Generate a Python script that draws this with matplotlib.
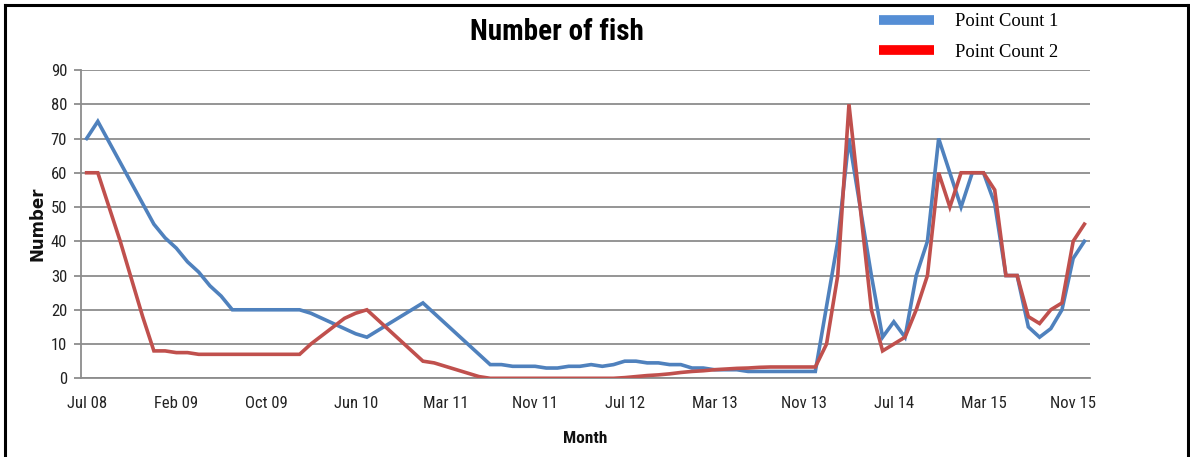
import matplotlib
matplotlib.use("Agg")
import matplotlib.pyplot as plt
from matplotlib.lines import Line2D
from matplotlib import font_manager
import numpy as np

# ---- data ----
tick_labels = ["Jul 08", "Feb 09", "Oct 09", "Jun 10", "Mar 11", "Nov 11",
               "Jul 12", "Mar 13", "Nov 13", "Jul 14", "Mar 15", "Nov 15"]
label_every = 8

point_count_1 = [
    70, 75, 69, 63, 57, 51, 45, 41, 38, 34,
    31, 27, 24, 20, 20, 20, 20, 20, 20, 20,
    19, 17.5, 16, 14.5, 13, 12, 14, 16, 18, 20,
    22, 19, 16, 13, 10, 7, 4, 4, 3.5, 3.5,
    3.5, 3, 3, 3.5, 3.5, 4, 3.5, 4, 5, 5,
    4.5, 4.5, 4, 4, 3, 3, 2.5, 2.5, 2.5, 2,
    2, 2, 2, 2, 2, 2, 21, 40, 70, 50,
    30, 12, 16.5, 12, 30, 40, 70, 60, 50, 60,
    60, 51, 30, 30, 15, 12, 14.5, 20, 35, 40,
]
point_count_2 = [
    60, 60, 50, 40, 29, 18, 8, 8, 7.5, 7.5,
    7, 7, 7, 7, 7, 7, 7, 7, 7, 7,
    10, 12.5, 15, 17.5, 19, 20, 17, 14, 11, 8,
    5, 4.5, 3.5, 2.5, 1.5, 0.5, 0, 0, 0, 0,
    0, 0, 0, 0, 0, 0, 0, 0, 0.2, 0.5,
    0.8, 1, 1.3, 1.7, 2, 2.2, 2.5, 2.7, 2.9, 3,
    3.2, 3.3, 3.3, 3.3, 3.3, 3.3, 10, 30, 80, 50,
    20, 8, 10, 12, 20, 30, 60, 50, 60, 60,
    60, 55, 30, 30, 18, 16, 20, 22, 40, 45,
]
series_names = ["Point Count 1", "Point Count 2"]

installed = {f.name for f in font_manager.fontManager.ttflist}
narrow = [f for f in ["Roboto Condensed", "Open Sans Condensed", "Liberation Sans Narrow", "Lato"]
          if f in installed] or ["DejaVu Sans"]
sans = narrow[:1] + ["DejaVu Sans"]

# ---- figure ----
W, H = 1190, 457
fig = plt.figure(figsize=(W / 100, H / 100), dpi=100)
ax = fig.add_axes([81 / W, 1 - 378.3 / H, 1009 / W, (378.3 - 70) / H])

x = np.arange(len(point_count_1))
ax.plot(x, point_count_1, color="#4F81BD", lw=2.6, solid_joinstyle="miter", zorder=3)
ax.plot(x, point_count_2, color="#C0504D", lw=2.6, solid_joinstyle="miter", zorder=4)

ax.set_xlim(-0.5, len(x) - 0.5)
ax.set_ylim(0, 90)
ax.set_yticks(np.arange(0, 91, 10))
ax.set_xticks(x[::label_every][:len(tick_labels)])
ax.set_xticklabels(tick_labels)

grid_col = "#8C8C8C"
ax.grid(axis="y", color=grid_col, lw=1.3)
ax.set_axisbelow(True)
for s in ["top", "right"]:
    ax.spines[s].set_visible(False)
for s in ["left", "bottom"]:
    ax.spines[s].set_color(grid_col)
    ax.spines[s].set_linewidth(1.3)

ax.tick_params(axis="y", length=5, color=grid_col, width=1.3, pad=5, labelcolor="#222222")
ax.tick_params(axis="x", length=0, pad=13, labelcolor="#222222")
for lab in ax.get_xticklabels() + ax.get_yticklabels():
    lab.set_fontfamily(sans)
    lab.set_fontsize(12)

ax.set_xlabel("Month", fontsize=12.5, fontweight="bold", family=sans, labelpad=14,
              color="#111111")
ax.set_ylabel("Number", fontsize=12, fontweight="bold", family="DejaVu Sans",
              labelpad=3, color="#111111")

fig.text(557 / W, 1 - 32 / H, "Number of fish", ha="center", va="center",
         fontsize=21, fontweight="bold", family=sans)

handles = [Line2D([], [], color="#558ED5", lw=7, solid_capstyle="butt"),
           Line2D([], [], color="#FF0000", lw=7, solid_capstyle="butt")]
fig.legend(handles, series_names, loc="upper left", bbox_to_anchor=(879 / W, 1 - 13 / H),
           frameon=False, prop=dict(family="Liberation Serif", size=13.3),
           handlelength=3.0, handletextpad=1.1, labelspacing=0.75, borderpad=0,
           borderaxespad=0)

# outer black frame
frame_kw = dict(color="black", lw=2.2, transform=fig.transFigure, clip_on=False)
fig.add_artist(Line2D([5 / W, 1188 / W], [1 - 5 / H, 1 - 5 / H], **frame_kw))
fig.add_artist(Line2D([5 / W, 5 / W], [1 - 5 / H, 0], **frame_kw))
fig.add_artist(Line2D([1188 / W, 1188 / W], [1 - 5 / H, 0], **frame_kw))

fig.savefig("out.png", dpi=100)
